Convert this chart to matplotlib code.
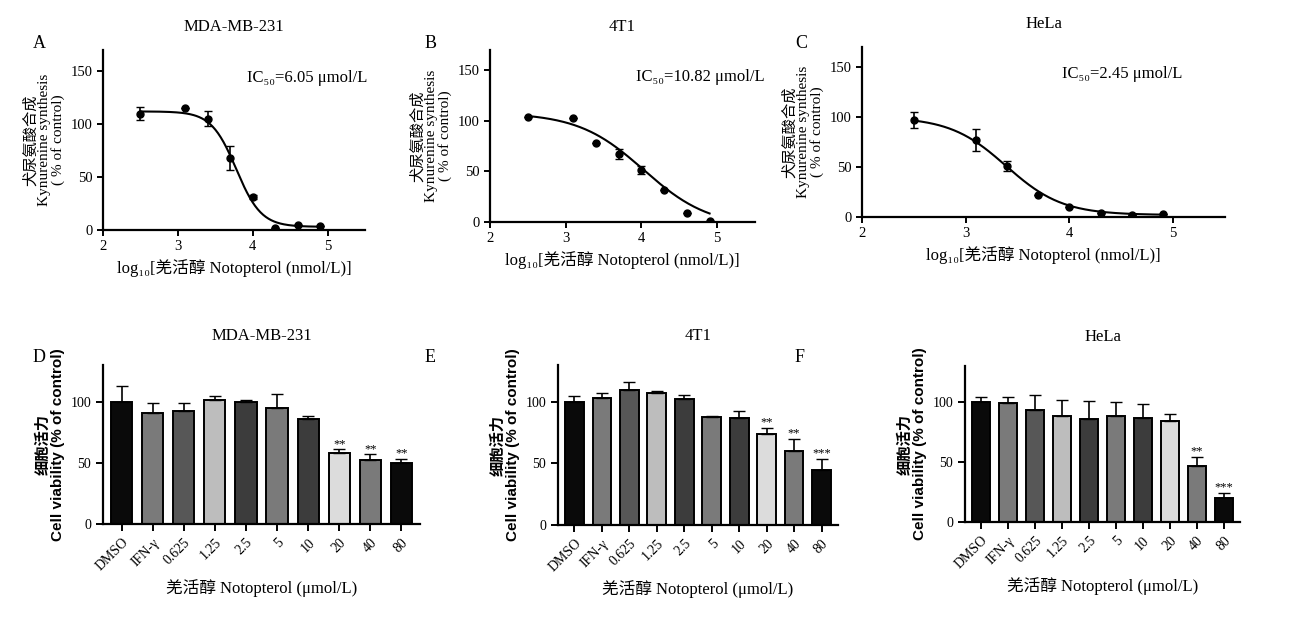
import numpy as np
import matplotlib.pyplot as plt

plt.rcParams['font.family'] = ['Liberation Serif', 'DejaVu Serif', 'Noto Sans CJK SC']
plt.rcParams['axes.linewidth'] = 1.6

# dose-response data (log10 nmol/L)
dose_x = [2.5, 3.1, 3.4, 3.7, 4.0, 4.3, 4.6, 4.9]
mda_kyn = [110, 115, 105, 68, 31, 2, 5, 4]
mda_kyn_err = [6, 0, 7, 11, 2, 0, 0, 0]
t41_kyn = [104, 103, 78, 67, 51, 32, 9, 1]
t41_kyn_err = [0, 0, 0, 5, 4, 0, 0, 0]
hela_kyn = [97, 77, 51, 22, 10, 4, 2, 3]
hela_kyn_err = [8, 11, 5, 0, 0, 0, 0, 0]
# fitted 4PL parameters: top, bottom, logIC50, hill
mda_fit = [112, 3, 3.78, 2.6]
t41_fit = [108, -5, 4.03, 1.0]
hela_fit = [100, 2, 3.39, 1.6]
ic50_text = ['IC₅₀=6.05 μmol/L', 'IC₅₀=10.82 μmol/L', 'IC₅₀=2.45 μmol/L']

groups = ['DMSO', 'IFN-γ', '0.625', '1.25', '2.5', '5', '10', '20', '40', '80']
mda_via = [100, 91, 92, 101, 100, 95, 86, 58, 52, 50]
mda_via_err = [13, 8, 7, 4, 1, 11, 2, 3, 5, 3]
mda_stars = ['', '', '', '', '', '', '', '**', '**', '**']
t41_via = [100, 103, 110, 107, 102, 88, 87, 74, 60, 45]
t41_via_err = [5, 4, 6, 2, 4, 0.5, 6, 5, 10, 9]
t41_stars = ['', '', '', '', '', '', '', '**', '**', '***']
hela_via = [100, 99, 93, 88, 86, 88, 87, 84, 47, 20]
hela_via_err = [4, 5, 13, 14, 15, 12, 11, 6, 7, 4]
hela_stars = ['', '', '', '', '', '', '', '', '**', '***']
bar_colors = ['#0a0a0a', '#7a7a7a', '#575757', '#bdbdbd', '#3c3c3c',
              '#7a7a7a', '#3c3c3c', '#dcdcdc', '#7a7a7a', '#0a0a0a']

titles = ['MDA-MB-231', '4T1', 'HeLa']

fig = plt.figure(figsize=(12.91, 6.25), dpi=100)
W, H = 1291, 625


def px_axes(l, t, r, b):
    return fig.add_axes([l / W, 1 - b / H, (r - l) / W, (b - t) / H])


top_boxes = [(103, 50, 365, 230), (490, 50, 755, 222), (862, 47, 1225, 217)]
bot_boxes = [(103, 365, 420, 524), (558, 365, 838, 525), (965, 366, 1240, 522)]
kyn = [(mda_kyn, mda_kyn_err, mda_fit), (t41_kyn, t41_kyn_err, t41_fit),
       (hela_kyn, hela_kyn_err, hela_fit)]
via = [(mda_via, mda_via_err, mda_stars), (t41_via, t41_via_err, t41_stars),
       (hela_via, hela_via_err, hela_stars)]
letters = 'ABCDEF'
top_letter_x = [33, 425, 795]
bot_letter_x = [33, 425, 795]

for i in range(3):
    ax = px_axes(*top_boxes[i])
    y, e, p = kyn[i]
    xx = np.linspace(2.5, 4.9, 200)
    ax.plot(xx, p[1] + (p[0] - p[1]) / (1 + 10 ** (p[3] * (xx - p[2]))), color='k', lw=1.5)
    ax.errorbar(dose_x, y, yerr=e, fmt='o', color='k', ms=5, capsize=3, lw=1.2)
    ax.set_xlim(2, 5.5)
    ax.set_ylim(0, 170)
    ax.set_xticks([2, 3, 4, 5])
    ax.set_yticks([0, 50, 100, 150])
    for s in ['top', 'right']:
        ax.spines[s].set_visible(False)
    ax.tick_params(labelsize=10.5, width=1.4, length=4)
    ax.set_ylabel('犬尿氨酸合成\nKynurenine synthesis\n( % of control)', fontsize=11, linespacing=1.0)
    ax.set_xlabel('log₁₀[羌活醇 Notopterol (nmol/L)]', fontsize=12)
    ax.text(0.55, 0.82, ic50_text[i], transform=ax.transAxes, fontsize=12)
    ax.set_title(titles[i], fontsize=12, pad=14)
    fig.text(top_letter_x[i] / W, 1 - 48 / H, letters[i], fontsize=13)

for i in range(3):
    ax = px_axes(*bot_boxes[i])
    y, e, st = via[i]
    xs = np.arange(len(groups))
    ax.bar(xs, y, width=0.68, color=bar_colors, edgecolor='k', lw=1.4)
    ax.errorbar(xs, y, yerr=[np.zeros(len(e)), e], fmt='none', ecolor='k', capsize=4, lw=1.2)
    for xv, yv, ev, s in zip(xs, y, e, st):
        if s:
            ax.text(xv, yv + ev + 2, s, ha='center', fontsize=9)
    ax.set_xlim(-0.6, 9.6)
    ax.set_ylim(0, 130)
    ax.set_yticks([0, 50, 100])
    ax.set_xticks(xs)
    ax.set_xticklabels(groups, rotation=45, ha='right', rotation_mode='anchor', fontsize=10)
    for s in ['top', 'right']:
        ax.spines[s].set_visible(False)
    ax.tick_params(labelsize=10, width=1.4, length=5)
    ax.set_ylabel('细胞活力\nCell viability (% of control)', fontsize=11, linespacing=1.0,
                  family=['Liberation Sans', 'Noto Sans CJK SC'], fontweight='bold')
    ax.set_xlabel('羌活醇 Notopterol (μmol/L)', fontsize=12)
    ax.set_title(titles[i], fontsize=12, pad=18)
    fig.text(bot_letter_x[i] / W, 1 - 362 / H, letters[i + 3], fontsize=13)

fig.savefig('out.png', dpi=100)
